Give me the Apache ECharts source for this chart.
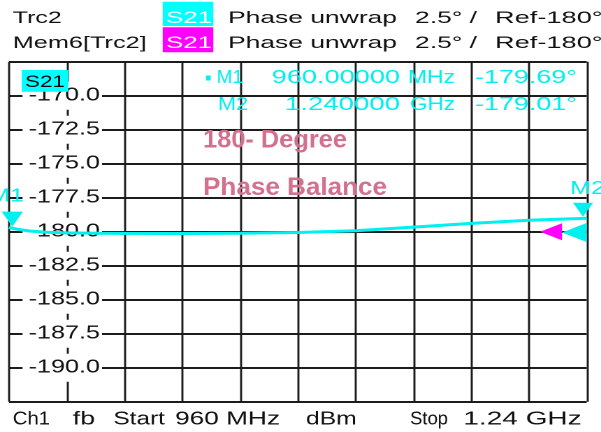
<!DOCTYPE html>
<html><head><meta charset="utf-8">
<script src="https://cdn.jsdelivr.net/npm/echarts@6/dist/echarts.min.js"></script>
<style>
html,body{margin:0;padding:0;background:#fff;overflow:hidden;width:601px;height:432px;}
#c{width:430px;height:432px;transform:scaleX(1.397674);transform-origin:0 0;}
</style></head><body><div id="c"></div>
<script>
// ---------------- data ----------------
const START_MHZ = 960, STOP_MHZ = 1240, X_DIV_MHZ = 28;
const Y_MIN = -192.5, Y_MAX = -167.5, Y_STEP = 2.5;
const REF_LEVEL = -180;
const freqMHz   = [960, 964, 970, 978, 988, 1004, 1016, 1044, 1072, 1100, 1128, 1156, 1184, 1212, 1240];
const phaseTrc2 = [-179.69, -179.82, -179.95, -180.04, -180.09, -180.11, -180.12, -180.13, -180.11, -180.06, -179.93, -179.66, -179.39, -179.16, -179.01];
const markerNames    = ['M1', 'M2'];
const markerFreqMHz  = [960, 1240];
const markerPhase    = [-179.69, -179.01];
const markerFreqText = ['960.00000', '1.240000'];
const markerUnitText = ['MHz', 'GHz'];
const traceNames = ['Trc2', 'Mem6[Trc2]'];
const paramName  = 'S21';
const formatText = 'Phase unwrap';
const scaleText  = '2.5° /';
const refText    = 'Ref-180°';
const footerTexts = ['Ch1', 'fb', 'Start', '960 MHz', 'dBm', 'Stop', '1.24 GHz'];
const noteLines  = ['180- Degree', 'Phase Balance'];

// ---------------- layout helpers ----------------
const W_IN = 430, S = 601 / W_IN;
const X = sx => sx / S;
const FAM = "'Liberation Sans', Arial, sans-serif";
const CYAN = '#00f0f0', CYAN_BOX = '#00ffff', MAGENTA = '#ff00ff', PINK = '#d4708f', GRID = '#1c1c1c';
const mctx = document.createElement('canvas').getContext('2d');
function txt(text, left, cy, font, color, opt) {
  opt = opt || {};
  mctx.font = font;
  const w = mctx.measureText(text).width;
  let k = opt.k;
  if (opt.right !== undefined) k = ((opt.right - left) / S) / w;
  const align = opt.align || 'left';
  return { type: 'text', x: X(left), y: cy, scaleX: k, z: 100,
    style: { text: text, font: font, fill: color, textAlign: align, align: align,
             textVerticalAlign: 'middle', verticalAlign: 'middle' } };
}
function box(x1, y1, x2, y2, color) {
  return { type: 'rect', z: 99, shape: { x: X(x1), y: y1, width: X(x2) - X(x1), height: y2 - y1 }, style: { fill: color } };
}
const fH = '17px ' + FAM, fM = '18px ' + FAM, fN = 'bold 25px ' + FAM;
const kH = 1.6 / S;

const graphics = [
  txt(traceNames[0], 12.7, 18.3, fH, '#111', { right: 61.7 }),
  txt(traceNames[1], 12.7, 43.3, fH, '#111', { right: 146.7 }),
  box(162.7, 1.7, 213.3, 26, CYAN_BOX),
  box(162.7, 27.3, 213.3, 52.3, MAGENTA),
  txt(paramName, 166, 18.3, fH, '#fff', { right: 212 }),
  txt(paramName, 166, 43.3, fH, '#fff', { right: 212 }),
  txt(formatText, 228, 18.3, fH, '#111', { right: 397 }),
  txt(formatText, 228, 43.3, fH, '#111', { right: 397 }),
  txt(scaleText, 415, 18.3, fH, '#111', { right: 477 }),
  txt(scaleText, 415, 43.3, fH, '#111', { right: 477 }),
  txt(refText, 495, 18.3, fH, '#111', { k: kH }),
  txt(refText, 495, 43.3, fH, '#111', { k: kH }),
  // plot-area trace label
  box(21.7, 70, 68.3, 91.7, CYAN_BOX),
  txt(paramName, 25, 82.5, fH, '#000', { right: 65 }),
  // marker readout
  box(206, 75.5, 210.7, 80.5, CYAN),
  txt(markerNames[0], 216.7, 78, fM, CYAN, { right: 243 }),
  txt(markerFreqText[0], 271.7, 78, fM, CYAN, { right: 400 }),
  txt(markerUnitText[0], 408, 78, fM, CYAN, { right: 455 }),
  txt(markerPhase[0].toFixed(2) + '°', 475, 78, fM, CYAN, { right: 577 }),
  txt(markerNames[1], 218, 105, fM, CYAN, { right: 248 }),
  txt(markerFreqText[1], 285, 105, fM, CYAN, { right: 400 }),
  txt(markerUnitText[1], 410, 105, fM, CYAN, { right: 455 }),
  txt(markerPhase[1].toFixed(2) + '°', 475, 105, fM, CYAN, { right: 577 }),
  // marker labels
  txt(markerNames[0], 24, 196.7, fM, CYAN, { k: 1.4 / S, align: 'right' }),
  txt(markerNames[1], 570, 189, fM, CYAN, { k: 1.4 / S }),
  // annotation
  txt(noteLines[0], 203, 140.5, fN, PINK, { right: 347 }),
  txt(noteLines[1], 203, 188.3, fN, PINK, { right: 387 }),
  // footer
  txt(footerTexts[0], 12.7, 419.7, fM, '#111', { right: 50 }),
  txt(footerTexts[1], 72.7, 419.7, fM, '#111', { right: 95 }),
  txt(footerTexts[2], 113.3, 419.7, fM, '#111', { right: 165 }),
  txt(footerTexts[3], 175, 419.7, fM, '#111', { right: 280 }),
  txt(footerTexts[4], 306, 419.7, fM, '#111', { right: 356.7 }),
  txt(footerTexts[5], 410, 419.7, fM, '#111', { right: 448 }),
  txt(footerTexts[6], 463.3, 419.7, fM, '#111', { right: 581.7 })
];

const chart = echarts.init(document.getElementById('c'), null, { renderer: 'canvas', devicePixelRatio: 2 });
chart.setOption({
  animation: false,
  backgroundColor: '#fff',
  grid: { left: X(9), right: W_IN - X(586.7), top: 61.7, bottom: 432 - 401.7, containLabel: false, outerBoundsMode: 'none' },
  xAxis: {
    type: 'value', min: 0, max: STOP_MHZ - START_MHZ, interval: X_DIV_MHZ,
    axisLine: { show: false }, axisTick: { show: false }, axisLabel: { show: false },
    splitLine: { show: true, showMinLine: true, showMaxLine: true, lineStyle: { color: GRID, width: 1.45 } }
  },
  yAxis: {
    type: 'value', min: Y_MIN, max: Y_MAX, interval: Y_STEP,
    axisLine: { show: false }, axisTick: { show: false },
    axisLabel: {
      inside: true, align: 'right', margin: X(102) - X(9),
      showMinLabel: false, showMaxLabel: false,
      formatter: v => v.toFixed(1),
      color: '#111', fontFamily: FAM, fontSize: 18, lineHeight: 18,
      backgroundColor: '#fff', padding: [5, 1.5, 5, 4.3]
    },
    splitLine: { show: true, showMinLine: true, showMaxLine: true, lineStyle: { color: GRID, width: 2 } }
  },
  graphic: { elements: graphics },
  series: [{
    type: 'line', name: traceNames[0],
    data: freqMHz.map((f, i) => [f - START_MHZ, phaseTrc2[i]]),
    symbol: 'none', showSymbol: false,
    lineStyle: { color: CYAN, width: 3 }, z: 3,
    markPoint: {
      label: { show: false },
      data: [
        { coord: [markerFreqMHz[0] - START_MHZ, markerPhase[0]], symbol: 'triangle', symbolRotate: 180,
          symbolSize: [X(21.3), 15], symbolOffset: [X(3.3), -8.3], itemStyle: { color: CYAN } },
        { coord: [markerFreqMHz[1] - START_MHZ, markerPhase[1]], symbol: 'triangle', symbolRotate: 180,
          symbolSize: [X(20), 14], symbolOffset: [X(-3.7), -8.5], itemStyle: { color: CYAN } },
        { coord: [STOP_MHZ - START_MHZ, REF_LEVEL], symbol: 'triangle', symbolRotate: 90,
          symbolSize: [19, X(24.7)], symbolOffset: [X(-12.4), 0.8], itemStyle: { color: CYAN } },
        { coord: [STOP_MHZ - START_MHZ, REF_LEVEL], symbol: 'triangle', symbolRotate: 90,
          symbolSize: [17, X(22)], symbolOffset: [X(-35.7), 0], itemStyle: { color: MAGENTA } }
      ]
    }
  }]
});
</script></body></html>
